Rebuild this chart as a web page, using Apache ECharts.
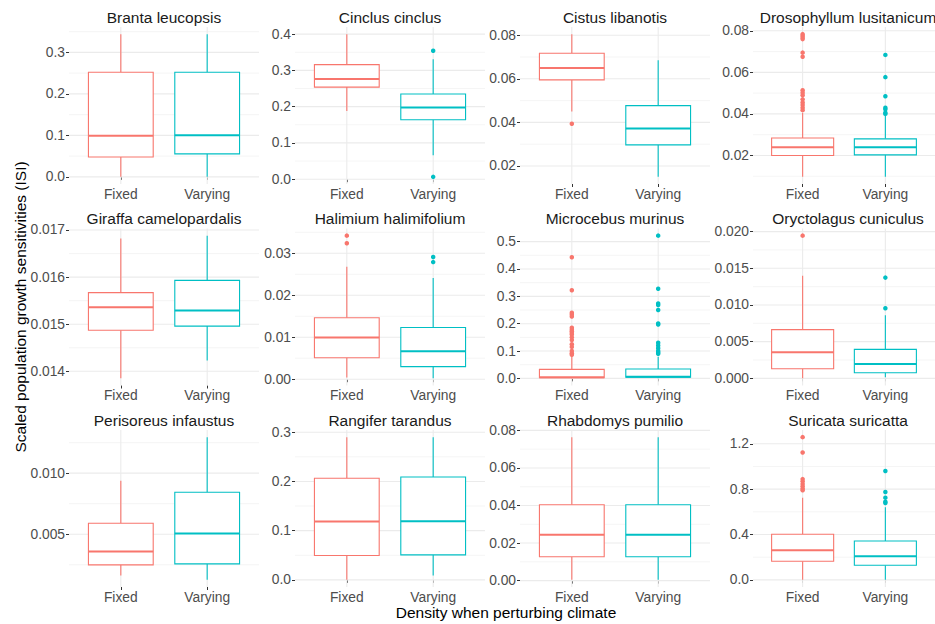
<!DOCTYPE html>
<html><head><meta charset="utf-8">
<script src="https://cdn.jsdelivr.net/npm/echarts@6/dist/echarts.min.js"></script>
<style>html,body{margin:0;padding:0;background:#fff}#chart{width:935px;height:624px}</style>
</head><body><div id="chart"></div>
<script>
// ---------------- data ----------------
const species = ['Branta leucopsis','Cinclus cinclus','Cistus libanotis','Drosophyllum lusitanicum',
  'Giraffa camelopardalis','Halimium halimifolium','Microcebus murinus','Oryctolagus cuniculus',
  'Perisoreus infaustus','Rangifer tarandus','Rhabdomys pumilio','Suricata suricatta'];
const groups = ['Fixed', 'Varying'];
// [lower whisker, Q1, median, Q3, upper whisker]
const fixedBox = [
  [0.0, 0.048, 0.099, 0.252, 0.344],
  [0.188, 0.254, 0.276, 0.316, 0.400],
  [0.045, 0.0595, 0.065, 0.0717, 0.0805],
  [0.0097, 0.020, 0.024, 0.0284, 0.0405],
  [0.01385, 0.01487, 0.01536, 0.01567, 0.01682],
  [0.0004, 0.0051, 0.00994, 0.01464, 0.0268],
  [0.0, 0.002, 0.004, 0.033, 0.079],
  [0.0, 0.00132, 0.00355, 0.00664, 0.0140],
  [0.00161, 0.00249, 0.00358, 0.0059, 0.00937],
  [0.0, 0.0494, 0.1185, 0.2065, 0.290],
  [0.0004, 0.0127, 0.0244, 0.0404, 0.0764],
  [0.0, 0.164, 0.261, 0.402, 0.725]
];
const varyingBox = [
  [0.0, 0.0555, 0.100, 0.252, 0.344],
  [0.066, 0.164, 0.198, 0.235, 0.331],
  [0.015, 0.0297, 0.0372, 0.0477, 0.0685],
  [0.0097, 0.0203, 0.024, 0.028, 0.0395],
  [0.01423, 0.01496, 0.01529, 0.01593, 0.01688],
  [0.0002, 0.003, 0.00668, 0.01233, 0.0241],
  [0.0, 0.004, 0.006, 0.034, 0.079],
  [0.00014, 0.00077, 0.00195, 0.00395, 0.0086],
  [0.00126, 0.00257, 0.00505, 0.00844, 0.01295],
  [0.0088, 0.0508, 0.119, 0.209, 0.290],
  [0.0004, 0.0127, 0.0244, 0.0404, 0.0764],
  [0.0, 0.129, 0.208, 0.343, 0.640]
];
const fixedOutliers = [
  [], [], [0.0394],
  [0.0784, 0.0776, 0.0768, 0.0760, 0.0695, 0.0675, 0.0514, 0.0502, 0.0490, 0.0470, 0.0455, 0.0443, 0.0430, 0.0418],
  [], [0.0342, 0.0324],
  [0.443, 0.322, 0.240, 0.234, 0.226, 0.185, 0.178, 0.172, 0.166, 0.160, 0.150, 0.140, 0.125, 0.115, 0.100, 0.092, 0.086],
  [0.01945], [], [], [],
  [1.259, 1.124, 0.889, 0.869, 0.845, 0.825, 0.805, 0.790]
];
const varyingOutliers = [
  [], [0.354, 0.0064], [],
  [0.0684, 0.0577, 0.0485, 0.0430, 0.0422, 0.0406, 0.0400],
  [], [0.0291, 0.0279],
  [0.522, 0.328, 0.274, 0.268, 0.250, 0.201, 0.197, 0.130, 0.120, 0.110, 0.100, 0.095, 0.090],
  [0.01373, 0.00955], [], [], [],
  [0.960, 0.775, 0.725, 0.690, 0.678]
];
const yTicks = [
  [0, 0.1, 0.2, 0.3], [0, 0.1, 0.2, 0.3, 0.4], [0.02, 0.04, 0.06, 0.08], [0.02, 0.04, 0.06, 0.08],
  [0.014, 0.015, 0.016, 0.017], [0, 0.01, 0.02, 0.03], [0, 0.1, 0.2, 0.3, 0.4, 0.5], [0, 0.005, 0.01, 0.015, 0.02],
  [0.005, 0.01], [0, 0.1, 0.2, 0.3], [0, 0.02, 0.04, 0.06, 0.08], [0, 0.4, 0.8, 1.2]
];
const yDecimals = [1, 1, 2, 2, 3, 2, 1, 3, 3, 1, 2, 1];
const xTitle = 'Density when perturbing climate';
const yTitle = 'Scaled population growth sensitivities (ISI)';

// ---------------- layout / style ----------------
const colLeft = [69, 295, 520, 753];
const rowTop = [27, 228.5, 430];
const panelW = 190, panelH = 157;
const groupColors = ['#F8766D', '#00BFC4'];
const FONT = '"Liberation Sans", Arial, Helvetica, sans-serif';
const X_MIN = 0.4, X_MAX = 2.6;

const grids = [], xAxes = [], yAxes = [], series = [], graphics = [];

species.forEach((name, i) => {
  const col = i % 4, row = Math.floor(i / 4);
  const left = colLeft[col], top = rowTop[row];
  grids.push({left: left, top: top, width: panelW, height: panelH, containLabel: false});

  const all = [...fixedBox[i], ...varyingBox[i], ...fixedOutliers[i], ...varyingOutliers[i]];
  const dMin = Math.min(...all), dMax = Math.max(...all);
  const pad = (dMax - dMin) * 0.05;
  const yMin = dMin - pad, yMax = dMax + pad;

  xAxes.push({
    gridIndex: i, type: 'value', min: X_MIN, max: X_MAX,
    axisLine: {show: false}, splitLine: {show: false},
    axisTick: {show: true, length: 3, customValues: [1, 2], lineStyle: {color: '#333', width: 1}},
    axisLabel: {customValues: [1, 2], formatter: v => groups[Math.round(v) - 1], fontSize: 13.8,
      color: '#4d4d4d', fontFamily: FONT, margin: 3}
  });
  const dec = yDecimals[i];
  yAxes.push({
    gridIndex: i, type: 'value', min: yMin, max: yMax,
    axisLine: {show: false}, splitLine: {show: false},
    axisTick: {show: true, length: 3, customValues: yTicks[i], lineStyle: {color: '#333', width: 1}},
    axisLabel: {customValues: yTicks[i], formatter: v => v.toFixed(dec), fontSize: 13.8,
      color: '#4d4d4d', fontFamily: FONT, margin: 4}
  });

  // grid lines: major, minor, vertical
  const ticks = yTicks[i];
  const step = ticks[1] - ticks[0];
  const minor = [];
  ticks.forEach(t => minor.push(t - step / 2));
  minor.push(ticks[ticks.length - 1] + step / 2);
  const gridData = [];
  minor.filter(v => v > yMin && v < yMax).forEach(v => gridData.push([v, 1]));
  ticks.forEach(v => gridData.push([v, 0]));
  [1, 2].forEach(v => gridData.push([v, 2]));
  series.push({
    type: 'custom', xAxisIndex: i, yAxisIndex: i, silent: true, z: 1,
    data: gridData,
    renderItem: (params, api) => {
      const v = api.value(0), kind = api.value(1);
      let p1, p2;
      if (kind === 2) { p1 = api.coord([v, yMin]); p2 = api.coord([v, yMax]); }
      else { p1 = api.coord([X_MIN, v]); p2 = api.coord([X_MAX, v]); }
      return {type: 'line', shape: {x1: p1[0], y1: p1[1], x2: p2[0], y2: p2[1]},
        style: {stroke: kind === 1 ? '#f3f3f3' : '#ebebeb', lineWidth: kind === 1 ? 0.8 : 1.1}};
    }
  });

  // boxes
  const boxData = [fixedBox[i], varyingBox[i]].map((b, gi) => [gi + 1, ...b, gi]);
  series.push({
    type: 'custom', xAxisIndex: i, yAxisIndex: i, silent: true, z: 2,
    encode: {x: 0, y: [1, 2, 3, 4, 5]},
    data: boxData,
    renderItem: (params, api) => {
      const x = api.value(0);
      const color = groupColors[api.value(6)];
      const half = api.size([0.75, 0])[0] / 2;
      const lo = api.coord([x, api.value(1)]);
      const q1 = api.coord([x, api.value(2)]);
      const md = api.coord([x, api.value(3)]);
      const q3 = api.coord([x, api.value(4)]);
      const hi = api.coord([x, api.value(5)]);
      const ls = {stroke: color, lineWidth: 1.1, fill: null};
      return {type: 'group', children: [
        {type: 'line', shape: {x1: lo[0], y1: lo[1], x2: q1[0], y2: q1[1]}, style: ls},
        {type: 'line', shape: {x1: q3[0], y1: q3[1], x2: hi[0], y2: hi[1]}, style: ls},
        {type: 'rect', shape: {x: q3[0] - half, y: q3[1], width: 2 * half, height: q1[1] - q3[1]},
          style: {fill: '#ffffff', stroke: color, lineWidth: 1.1}},
        {type: 'line', shape: {x1: md[0] - half, y1: md[1], x2: md[0] + half, y2: md[1]},
          style: {stroke: color, lineWidth: 2}}
      ]};
    }
  });

  // outliers
  [fixedOutliers[i], varyingOutliers[i]].forEach((arr, gi) => {
    if (!arr.length) return;
    series.push({
      type: 'scatter', xAxisIndex: i, yAxisIndex: i, silent: true, z: 3,
      symbol: 'circle', symbolSize: 4.5,
      itemStyle: {color: groupColors[gi], opacity: 1},
      data: arr.map(v => [gi + 1, v])
    });
  });

  // panel title
  graphics.push({type: 'text', x: left + panelW / 2, y: top - 10,
    style: {text: name, fill: '#1a1a1a', fontSize: 15.5, fontFamily: FONT,
      textAlign: 'center', align: 'center', textVerticalAlign: 'middle', verticalAlign: 'middle'}});
});

graphics.push({type: 'text', x: 506, y: 612,
  style: {text: xTitle, fill: '#000', fontSize: 15.5, fontFamily: FONT,
    textAlign: 'center', align: 'center', textVerticalAlign: 'middle', verticalAlign: 'middle'}});
graphics.push({type: 'text', x: 20, y: 307, rotation: Math.PI / 2,
  style: {text: yTitle, fill: '#000', fontSize: 15.5, fontFamily: FONT,
    textAlign: 'center', align: 'center', textVerticalAlign: 'middle', verticalAlign: 'middle'}});

const chart = echarts.init(document.getElementById('chart'), null, {renderer: 'svg'});
chart.setOption({
  animation: false,
  backgroundColor: '#ffffff',
  grid: grids, xAxis: xAxes, yAxis: yAxes, series: series,
  graphic: {elements: graphics}
});
</script></body></html>
